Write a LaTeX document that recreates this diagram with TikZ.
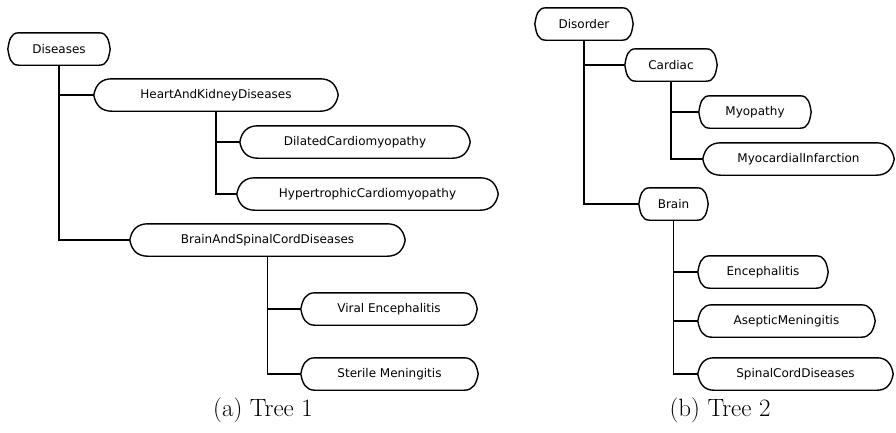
\documentclass[tikz,border=0pt]{standalone}
\usepackage{fontspec}
\newfontfamily\termfont{DejaVu Sans}
\usetikzlibrary{calc}

\tikzset{
  term/.style={font=\termfont\fontsize{12}{14}\selectfont, minimum height=32, inner sep=0pt,
    append after command={\pgfextra{
      \draw[line width=1.4pt] ([xshift=#1]\tikzlastnode.north west) -- ([xshift=-#1]\tikzlastnode.north east)
        to[out=0,in=100,looseness=1.1] (\tikzlastnode.east) to[out=-100,in=0,looseness=1.1] ([xshift=-#1]\tikzlastnode.south east)
        -- ([xshift=#1]\tikzlastnode.south west) to[out=180,in=-80,looseness=1.1] (\tikzlastnode.west)
        to[out=80,in=180,looseness=1.1] cycle;}}},
  term/.default=11,
  edge/.style={line width=1.4pt},
  caption/.style={font=\fontsize{25}{30}\selectfont}
}

\begin{document}
\begin{tikzpicture}[x=1pt,y=1pt]
      \useasboundingbox (0,0) rectangle (896,-432);
      % tree 1
      \node[term, minimum width=102] (dis) at (59,-49) {Diseases};
      \node[term=18, minimum width=244] (hkd) at (216,-95) {HeartAndKidneyDiseases};
      \node[term=18, minimum width=230] (dcm) at (355,-142) {DilatedCardiomyopathy};
      \node[term=18, minimum width=261] (hcm) at (367.5,-194) {HypertrophicCardiomyopathy};
      \node[term=18, minimum width=275] (bscd) at (267.5,-240) {BrainAndSpinalCordDiseases};
      \node[term=14, minimum width=176] (venc) at (389,-309) {Viral Encephalitis};
      \node[term=14, minimum width=177] (smen) at (389.5,-374) {Sterile Meningitis};
      \draw[edge] (dis.south) |- (hkd.west);
      \draw[edge] (dis.south) |- (bscd.west);
      \draw[edge] (hkd.south) |- (dcm.west);
      \draw[edge] (hkd.south) |- (hcm.west);
      \draw[edge] (bscd.south) |- (venc.west);
      \draw[edge] (bscd.south) |- (smen.west);
      \node[caption] (capa) at (263,-410) {(a) Tree 1};
      % tree 2
      \node[term, minimum width=98] (dso) at (584,-24) {Disorder};
      \node[term, minimum width=92] (card) at (671,-65) {Cardiac};
      \node[term, minimum width=112] (myo) at (755,-112) {Myopathy};
      \node[term=18, minimum width=191] (minf) at (798.5,-159) {MyocardialInfarction};
      \node[term, minimum width=69] (brain) at (673.5,-204) {Brain};
      \node[term=12, minimum width=130] (enc) at (763,-272) {Encephalitis};
      \node[term=14, minimum width=177] (amen) at (786.5,-321) {AsepticMeningitis};
      \node[term=16, minimum width=195] (scd) at (795.5,-374) {SpinalCordDiseases};
      \draw[edge] (dso.south) |- (card.west);
      \draw[edge] (dso.south) |- (brain.west);
      \draw[edge] (card.south) |- (myo.west);
      \draw[edge] (card.south) |- (minf.west);
      \draw[edge] (brain.south) |- (enc.west);
      \draw[edge] (brain.south) |- (amen.west);
      \draw[edge] (brain.south) |- (scd.west);
      \node[caption] (capb) at (720,-410) {(b) Tree 2};
\end{tikzpicture}
\end{document}
